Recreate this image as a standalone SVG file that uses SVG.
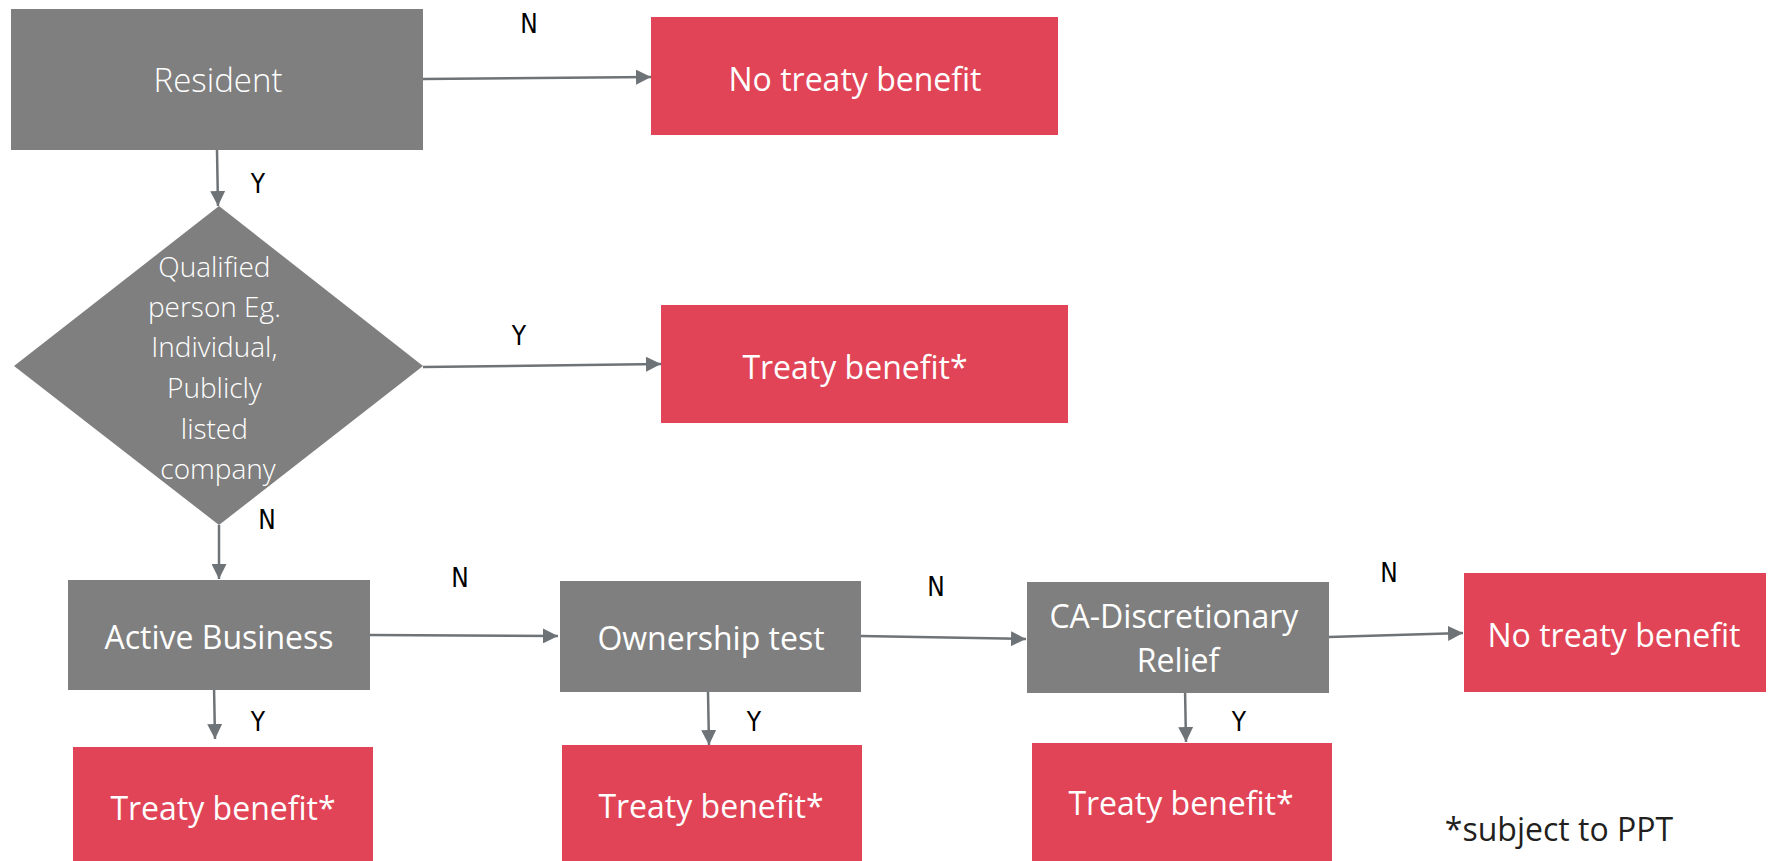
<svg xmlns="http://www.w3.org/2000/svg" width="1769" height="861" viewBox="0 0 1769 861">
<style>
.g{fill:#7f7f7f}
.r{fill:#e04456}
.t{font-family:"Open Sans","Noto Sans",sans-serif;fill:#ffffff;text-anchor:middle;dominant-baseline:central}
.lt{font-weight:300}
.lbl{font-family:"Liberation Sans Narrow","DejaVu Sans Condensed","Liberation Sans",sans-serif;font-stretch:condensed;font-size:26px;fill:#000;text-anchor:middle;dominant-baseline:central}
.c{stroke:#6e7378;stroke-width:2.5;fill:none;marker-end:url(#ah)}
</style>
<defs>
<marker id="ah" viewBox="0 0 10 10" refX="10" refY="5" markerWidth="6" markerHeight="6" markerUnits="strokeWidth" orient="auto">
<path d="M0,0 L10,5 L0,10 z" fill="#6e7378"/>
</marker>
</defs>
<rect width="1769" height="861" fill="#ffffff"/>
<g id="connectors">
<path class="c" d="M423,79 L651,77"/>
<path class="c" d="M217,150 L218,206"/>
<path class="c" d="M423,367 L661,364"/>
<path class="c" d="M219,525 L219,579"/>
<path class="c" d="M370,635 L558,636"/>
<path class="c" d="M861,636 L1026,639"/>
<path class="c" d="M1329,637 L1463,633"/>
<path class="c" d="M214,686 L215,739"/>
<path class="c" d="M708,692 L709,745"/>
<path class="c" d="M1185,688 L1186,742"/>
<text class="lbl" x="529" y="24">N</text>
<text class="lbl" x="258" y="184">Y</text>
<text class="lbl" x="519" y="336">Y</text>
<text class="lbl" x="267" y="520">N</text>
<text class="lbl" x="460" y="578">N</text>
<text class="lbl" x="936" y="587">N</text>
<text class="lbl" x="1389" y="573">N</text>
<text class="lbl" x="258" y="722">Y</text>
<text class="lbl" x="754" y="722">Y</text>
<text class="lbl" x="1239" y="722">Y</text>
</g>
<g id="resident">
<rect class="g" x="11" y="9" width="412" height="141"/>
<text class="t lt" x="218" y="79" font-size="33">Resident</text>
</g>
<g id="no-treaty-1">
<rect class="r" x="651" y="17" width="407" height="118"/>
<text class="t" x="855" y="78" font-size="32">No treaty benefit</text>
</g>
<g id="qualified">
<polygon class="g" points="219,206 423,366 219,525 14,366"/>
<text class="t lt" x="218" font-size="28">
<tspan x="218" y="266">Qualified</tspan>
<tspan x="218" y="306">person Eg.</tspan>
<tspan x="218" y="346">Individual,</tspan>
<tspan x="218" y="387">Publicly</tspan>
<tspan x="218" y="428">listed</tspan>
<tspan x="218" y="468">company</tspan>
</text>
</g>
<g id="treaty-1">
<rect class="r" x="661" y="305" width="407" height="118"/>
<text class="t" x="855" y="366" font-size="32">Treaty benefit*</text>
</g>
<g id="active-business">
<rect class="g" x="68" y="580" width="302" height="110"/>
<text class="t" x="219" y="636" font-size="32">Active Business</text>
</g>
<g id="ownership">
<rect class="g" x="560" y="581" width="301" height="111"/>
<text class="t" x="711" y="637" font-size="32">Ownership test</text>
</g>
<g id="ca-relief">
<rect class="g" x="1027" y="582" width="302" height="111"/>
<text class="t" font-size="32">
<tspan x="1178" y="615">CA-Discretionary</tspan>
<tspan x="1178" y="659">Relief</tspan>
</text>
</g>
<g id="no-treaty-2">
<rect class="r" x="1464" y="573" width="302" height="119"/>
<text class="t" x="1614" y="634" font-size="32">No treaty benefit</text>
</g>
<g id="treaty-2">
<rect class="r" x="73" y="747" width="300" height="114"/>
<text class="t" x="223" y="807" font-size="32">Treaty benefit*</text>
</g>
<g id="treaty-3">
<rect class="r" x="562" y="745" width="300" height="116"/>
<text class="t" x="711" y="805" font-size="32">Treaty benefit*</text>
</g>
<g id="treaty-4">
<rect class="r" x="1032" y="743" width="300" height="118"/>
<text class="t" x="1181" y="802" font-size="32">Treaty benefit*</text>
</g>
<g id="note">
<text x="1559" y="828" font-family="'Open Sans','Noto Sans',sans-serif" font-size="32" fill="#231f20" text-anchor="middle" dominant-baseline="central">*subject to PPT</text>
</g>
</svg>
